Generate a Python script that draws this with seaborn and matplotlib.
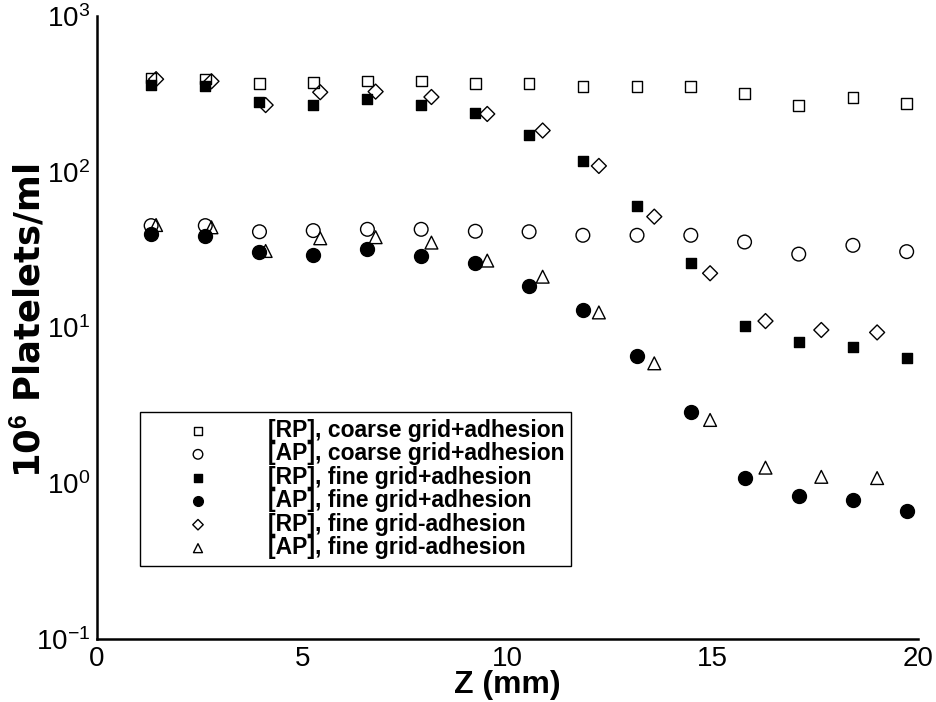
import numpy as np
import pandas as pd
import matplotlib
matplotlib.use("Agg")
import matplotlib.pyplot as plt
import seaborn as sns
from matplotlib.ticker import LogLocator, MultipleLocator, NullFormatter

# ---- data ----
z_grid = [1.32, 2.64, 3.96, 5.27, 6.59, 7.90, 9.22, 10.53, 11.84, 13.16,
          14.47, 15.78, 17.10, 18.42, 19.73]
z_noadh = [1.44, 2.79, 4.11, 5.44, 6.79, 8.15, 9.51, 10.86, 12.23, 13.58,
           14.94, 16.29, 17.65, 19.01]

rp_coarse_adh = [400, 395, 367, 375, 383, 383, 370, 370, 352, 352,
                 352, 317, 267, 301, 275]
ap_coarse_adh = [45.1, 45.1, 41.2, 41.9, 42.7, 42.7, 41.5, 41.2, 39.1, 39.1,
                 39.1, 35.4, 29.6, 33.7, 30.7]
rp_fine_adh = [359, 356, 279, 268, 292, 267, 238, 171, 117, 60.0,
               25.8, 10.2, 8.04, 7.5, 6.34]
ap_fine_adh = [39.8, 38.8, 30.4, 29.1, 31.8, 28.6, 26.1, 18.5, 12.9, 6.59,
               2.86, 1.08, 0.832, 0.784, 0.664]
rp_fine_noadh = [393, 381, 268, 324, 327, 302, 235, 184, 109, 51.5,
                 22.3, 11.0, 9.64, 9.3]
ap_fine_noadh = [45.5, 44.0, 31.0, 37.4, 38.0, 35.1, 26.9, 21.2, 12.5, 5.89,
                 2.55, 1.26, 1.10, 1.08]

labels = ["[RP], coarse grid+adhesion", "[AP], coarse grid+adhesion",
          "[RP], fine grid+adhesion", "[AP], fine grid+adhesion",
          "[RP], fine grid-adhesion", "[AP], fine grid-adhesion"]

x_ticks = [0, 5, 10, 15, 20]
x_label = "Z (mm)"

# ---- style ----
sns.set_style("white")
plt.rcParams["font.family"] = ["Liberation Sans", "DejaVu Sans"]
plt.rcParams["mathtext.fontset"] = "custom"
plt.rcParams["mathtext.rm"] = "Liberation Sans"
plt.rcParams["mathtext.bf"] = "Liberation Sans:bold"
plt.rcParams["mathtext.it"] = "Liberation Sans:italic"
plt.rcParams["axes.unicode_minus"] = False
plt.rcParams["text.color"] = "black"
plt.rcParams["axes.labelcolor"] = "black"
plt.rcParams["xtick.color"] = "black"
plt.rcParams["ytick.color"] = "black"
plt.rcParams["xtick.labelcolor"] = "black"
plt.rcParams["ytick.labelcolor"] = "black"

fig = plt.figure(figsize=(9.36, 7.02), dpi=100)
ax = fig.add_axes([0.1036, 0.0897, 0.9805 - 0.1036, 0.9772 - 0.0897])

series = [
    (z_grid, rp_coarse_adh, "s", 59, "none", labels[0]),
    (z_grid, ap_coarse_adh, "o", 97, "none", labels[1]),
    (z_grid, rp_fine_adh, "s", 62, "black", labels[2]),
    (z_grid, ap_fine_adh, "o", 100, "black", labels[3]),
    (z_noadh, rp_fine_noadh, "D", 58, "none", labels[4]),
    (z_noadh, ap_fine_noadh, "^", 85, "none", labels[5]),
]

for zx, vals, mk, size, fc, lab in series:
    df = pd.DataFrame({"z": zx, "v": vals})
    sns.scatterplot(data=df, x="z", y="v", marker=mk, s=size,
                    facecolor=fc, edgecolor="black", linewidth=1.0,
                    ax=ax, label=lab, zorder=3)

ax.set_yscale("log")
ax.set_xlim(0, 20)
ax.set_ylim(0.1, 1000)
ax.set_xticks(x_ticks)
ax.set_xticklabels([str(t) for t in x_ticks])
ax.xaxis.set_minor_locator(MultipleLocator(1))
ax.yaxis.set_major_locator(LogLocator(base=10, numticks=10))
ax.yaxis.set_minor_locator(LogLocator(base=10, subs=np.arange(2, 10), numticks=20))
ax.yaxis.set_minor_formatter(NullFormatter())

for side in ["top", "right"]:
    ax.spines[side].set_visible(False)
for side in ["left", "bottom"]:
    ax.spines[side].set_linewidth(1.8)
    ax.spines[side].set_color("black")

ax.tick_params(which="major", direction="in", length=10.5, width=1.5,
               labelsize=20, pad=5, colors="black")
ax.tick_params(which="minor", direction="in", length=6.5, width=0.8,
               colors="black")

ax.set_xlabel(x_label, fontsize=23, fontweight="bold", color="black")
ax.xaxis.set_label_coords(0.5, -0.0505)
ax.set_ylabel(r"10$^{\mathbf{6}}$ Platelets/ml", fontsize=25.5,
              fontweight="bold", family="DejaVu Sans", color="black")
ax.yaxis.set_label_coords(-0.060, 0.51)

leg = ax.legend(loc="upper left", bbox_to_anchor=(140 / 936, 1 - 412 / 702),
                bbox_transform=fig.transFigure, frameon=True, fancybox=False,
                edgecolor="black", framealpha=1, borderpad=0.3,
                borderaxespad=0.0,
                handlelength=4.46, handletextpad=0.83, labelspacing=0.02,
                markerscale=0.7, prop={"family": "Liberation Sans",
                                       "weight": "bold", "size": 16.5})
leg.get_frame().set_linewidth(1.0)
for t in leg.get_texts():
    t.set_color("black")

fig.savefig("out.png", dpi=100)
